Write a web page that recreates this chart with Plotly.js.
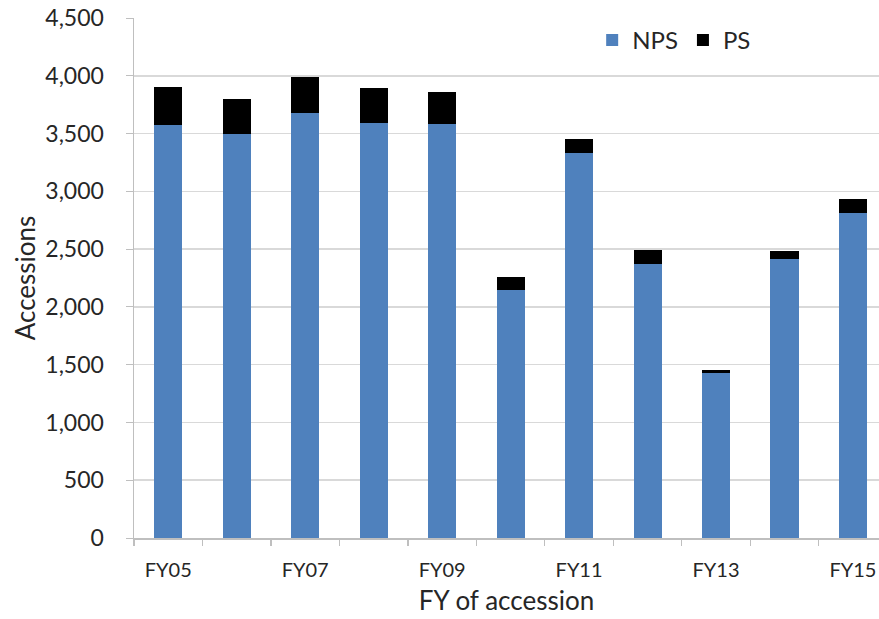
<!DOCTYPE html>
<html>
<head>
<meta charset="utf-8">
<script src="https://cdn.plot.ly/plotly-3.0.1.min.js"></script>
<style>html,body{margin:0;padding:0;background:#fff;}#chart{width:879px;height:619px;}</style>
</head>
<body>
<div id="chart"></div>
<script>
const categories = ['FY05','FY06','FY07','FY08','FY09','FY10','FY11','FY12','FY13','FY14','FY15'];
const npsValues = [3570, 3500, 3680, 3590, 3580, 2150, 3330, 2370, 1430, 2415, 2810];
const psValues  = [330, 300, 310, 300, 280, 110, 120, 125, 20, 65, 120];
const tickLabels = ['FY05','FY07','FY09','FY11','FY13','FY15'];
const yTicks = [0,500,1000,1500,2000,2500,3000,3500,4000,4500];

const FONT = 'Lato, "Open Sans", sans-serif';
const grey = '#bfbfbf';

const traces = [
  {type:'bar', name:'NPS', x:categories, y:npsValues, marker:{color:'#4F81BD'}, xaxis:'x', yaxis:'y'},
  {type:'bar', name:'PS', x:categories, y:psValues, marker:{color:'#000000'}, xaxis:'x', yaxis:'y'},
  {type:'scatter', x:[0], y:[0], mode:'markers', marker:{opacity:0}, showlegend:false, hoverinfo:'skip', xaxis:'x2', yaxis:'y'}
];

const n = categories.length;
const boundaries = [];
for (let i = 0; i <= n; i++) boundaries.push(i - 0.5);
const xr = [-0.5, 10.38];

const layout = {
  width: 879, height: 619,
  margin: {l:134, r:0, t:18, b:81},
  paper_bgcolor:'#fff', plot_bgcolor:'#fff',
  barmode:'stack', bargap:0.59,
  font:{family:FONT, color:'#262626'},
  showlegend:true,
  legend:{orientation:'h', x:0.615, y:1.0, xanchor:'left', yanchor:'top', font:{size:24, family:FONT, color:'#262626'}, bgcolor:'rgba(0,0,0,0)', itemwidth:30, traceorder:'normal'},
  xaxis:{
    type:'category', range:xr, tickmode:'array', tickvals:tickLabels, ticktext:tickLabels,
    ticks:'', showgrid:false, showline:true, linecolor:grey, linewidth:1.5,
    tickfont:{size:20, family:FONT, color:'#262626'}, ticklabelstandoff:13,
    title:{text:'FY of accession', font:{size:26, family:FONT, color:'#262626'}, standoff:12},
    fixedrange:true
  },
  xaxis2:{
    overlaying:'x', range:xr, tickmode:'array', tickvals:boundaries, showticklabels:false,
    ticks:'outside', ticklen:7, tickcolor:grey, tickwidth:1.2, showgrid:false, showline:false, zeroline:false,
    fixedrange:true
  },
  yaxis:{
    range:[0,4500], tickmode:'array', tickvals:yTicks, tickformat:',d',
    showgrid:true, gridcolor:'#d9d9d9', gridwidth:1.5, zeroline:false,
    showline:true, linecolor:grey, linewidth:1.5, ticks:'outside', ticklen:7, tickcolor:grey,
    tickfont:{size:23, family:FONT, color:'#262626'}, ticklabelstandoff:17,
    title:{text:'Accessions', font:{size:26, family:FONT, color:'#262626'}, standoff:2},
    fixedrange:true
  }
};

Plotly.newPlot('chart', traces, layout, {displayModeBar:false, staticPlot:true});
</script>
</body>
</html>
